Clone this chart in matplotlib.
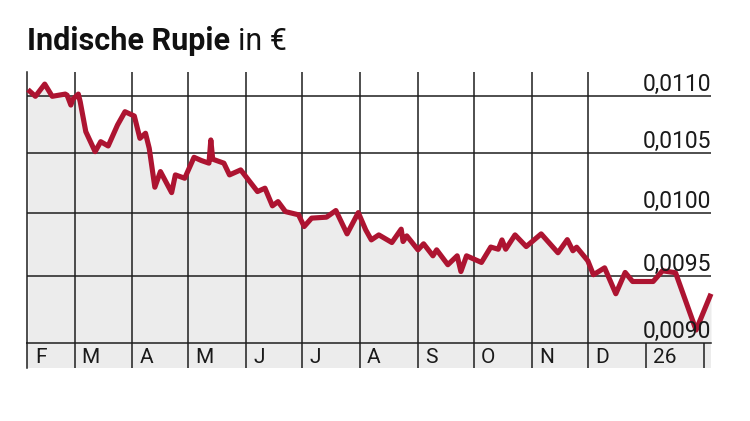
import matplotlib
matplotlib.use("Agg")
import matplotlib.pyplot as plt
import matplotlib.transforms as mtransforms
import pandas as pd

# Indische Rupie in Euro, Feb 2025 - Feb 2026
dates = ["2025-02-04", "2025-02-08", "2025-02-13", "2025-02-17", "2025-02-24",
         "2025-02-25", "2025-02-27", "2025-02-28", "2025-03-03", "2025-03-04",
         "2025-03-07", "2025-03-12", "2025-03-15", "2025-03-19", "2025-03-24",
         "2025-03-28", "2025-04-02", "2025-04-05", "2025-04-08", "2025-04-10",
         "2025-04-13", "2025-04-16", "2025-04-22", "2025-04-24", "2025-04-29",
         "2025-05-04", "2025-05-08", "2025-05-12", "2025-05-13", "2025-05-14",
         "2025-05-20", "2025-05-23", "2025-05-29", "2025-06-07", "2025-06-11",
         "2025-06-15", "2025-06-18", "2025-06-22", "2025-06-29", "2025-07-02",
         "2025-07-06", "2025-07-14", "2025-07-19", "2025-07-25", "2025-07-31",
         "2025-08-04", "2025-08-07", "2025-08-11", "2025-08-18", "2025-08-23",
         "2025-08-24", "2025-08-26", "2025-09-01", "2025-09-04", "2025-09-09",
         "2025-09-11", "2025-09-17", "2025-09-22", "2025-09-24", "2025-09-27",
         "2025-10-05", "2025-10-10", "2025-10-14", "2025-10-16", "2025-10-18",
         "2025-10-23", "2025-10-29", "2025-11-06", "2025-11-15", "2025-11-20",
         "2025-11-23", "2025-11-25", "2025-12-01", "2025-12-04", "2025-12-10",
         "2025-12-16", "2025-12-21", "2025-12-25", "2026-01-05", "2026-01-10",
         "2026-01-17", "2026-01-28", "2026-02-05"]
values = [0.01106, 0.01100, 0.01111, 0.01100, 0.01102,
          0.01101, 0.010922, 0.010973, 0.01102, 0.010952,
          0.010688, 0.010515, 0.010601, 0.010564, 0.010746,
          0.010863, 0.010825, 0.010630, 0.010674, 0.010544,
          0.010215, 0.010346, 0.010170, 0.010318, 0.010290,
          0.010467, 0.010439, 0.010417, 0.010616, 0.010451,
          0.010417, 0.010318, 0.010360, 0.010179, 0.010207,
          0.010061, 0.010096, 0.010014, 0.009988, 0.009893,
          0.009961, 0.009969, 0.010023, 0.009834, 0.010006,
          0.009866, 0.009786, 0.009826, 0.009765, 0.009872,
          0.009773, 0.009818, 0.009707, 0.009755, 0.009660,
          0.009707, 0.009590, 0.009660, 0.009537, 0.009660,
          0.009608, 0.009729, 0.009712, 0.009786, 0.009712,
          0.009826, 0.009733, 0.009834, 0.009684, 0.009788,
          0.009700, 0.009728, 0.009621, 0.009512, 0.009566,
          0.009366, 0.009530, 0.009460, 0.009460, 0.009543,
          0.009528, 0.009093, 0.009366]

y_ticks = [0.0110, 0.0105, 0.0100, 0.0095, 0.0090]
y_labels = ["0,0110", "0,0105", "0,0100", "0,0095", "0,0090"]

month_starts = ["2025-02-01", "2025-03-01", "2025-04-01", "2025-05-01", "2025-06-01",
                "2025-07-01", "2025-08-01", "2025-09-01", "2025-10-01", "2025-11-01",
                "2025-12-01", "2026-01-01", "2026-02-01"]
month_labels = ["F", "M", "A", "M", "J", "J", "A", "S", "O", "N", "D", "26", ""]

x = pd.to_datetime(dates)
months = pd.to_datetime(month_starts)

RED = "#ad1431"
FILL = "#ececec"
GRID = "#1e1e1e"
TXT = "#1a1a1a"
W, H = 750, 421

plt.rcParams["font.family"] = ["Roboto", "DejaVu Sans"]

fig = plt.figure(figsize=(7.5, 4.21), dpi=100)

# main plot area (pixel layout)
left, right = 27 / W, 711 / W
ax = fig.add_axes([left, 1 - 342.7 / H, right - left, (342.7 - 72) / H])
ax.set_yscale("log")
ax.set_ylim(0.0090, 0.01122)
ax.set_xlim(x[0] - pd.Timedelta(hours=12), x[-1])

ax.fill_between(x, values, 0.0085, color=FILL, lw=0, zorder=1)
for m in months[1:11]:
    ax.axvline(m, color=GRID, lw=1.1, zorder=2)
for t in y_ticks[:-1]:
    ax.axhline(t, color=GRID, lw=1.1, zorder=2)
ax.plot(x, values, color=RED, lw=3.7, solid_joinstyle="round",
        solid_capstyle="butt", zorder=3, clip_on=False)

trans = mtransforms.blended_transform_factory(ax.transAxes, ax.transData)
for t, lab in zip(y_ticks, y_labels):
    ax.text(1.0, t, lab, transform=trans, ha="right", va="bottom",
            fontsize=16.5, color=TXT, zorder=4)

for s in ["top", "right", "bottom"]:
    ax.spines[s].set_visible(False)
ax.spines["left"].set_color(GRID)
ax.spines["left"].set_linewidth(1.1)
ax.set_xticks([])
ax.set_yticks([])
ax.yaxis.set_minor_locator(matplotlib.ticker.NullLocator())

# month band below
bx = fig.add_axes([left, 1 - 368 / H, right - left, (368 - 342.7) / H], sharex=ax)
bx.set_facecolor(FILL)
bx.set_ylim(0, 1)
for m in months[1:]:
    bx.axvline(m, color=GRID, lw=1.1)
for s in ["right", "bottom"]:
    bx.spines[s].set_visible(False)
bx.spines["top"].set_color(GRID)
bx.spines["top"].set_linewidth(1.1)
bx.spines["left"].set_color(GRID)
bx.spines["left"].set_linewidth(1.1)
bx.tick_params(left=False, bottom=False, labelleft=False, labelbottom=False)

off = mtransforms.offset_copy(bx.transData, fig=fig, x=7, y=0, units="dots")
for m, lab in zip(months, month_labels):
    pos = max(m, x[0])
    bx.text(pos, 0.42, lab, transform=off, ha="left", va="center",
            fontsize=15, color=TXT)

# title
t1 = fig.text(27 / W, 1 - 50 / H, "Indische Rupie", fontsize=22,
              fontweight="bold", color="#111111", va="baseline", ha="left")
fig.canvas.draw()
bb = t1.get_window_extent()
fig.text((bb.x1 + 8) / W, 1 - 50 / H, "in \u20ac", fontsize=22,
         color="#111111", va="baseline", ha="left")

fig.savefig("out.png", dpi=100, facecolor="white")
